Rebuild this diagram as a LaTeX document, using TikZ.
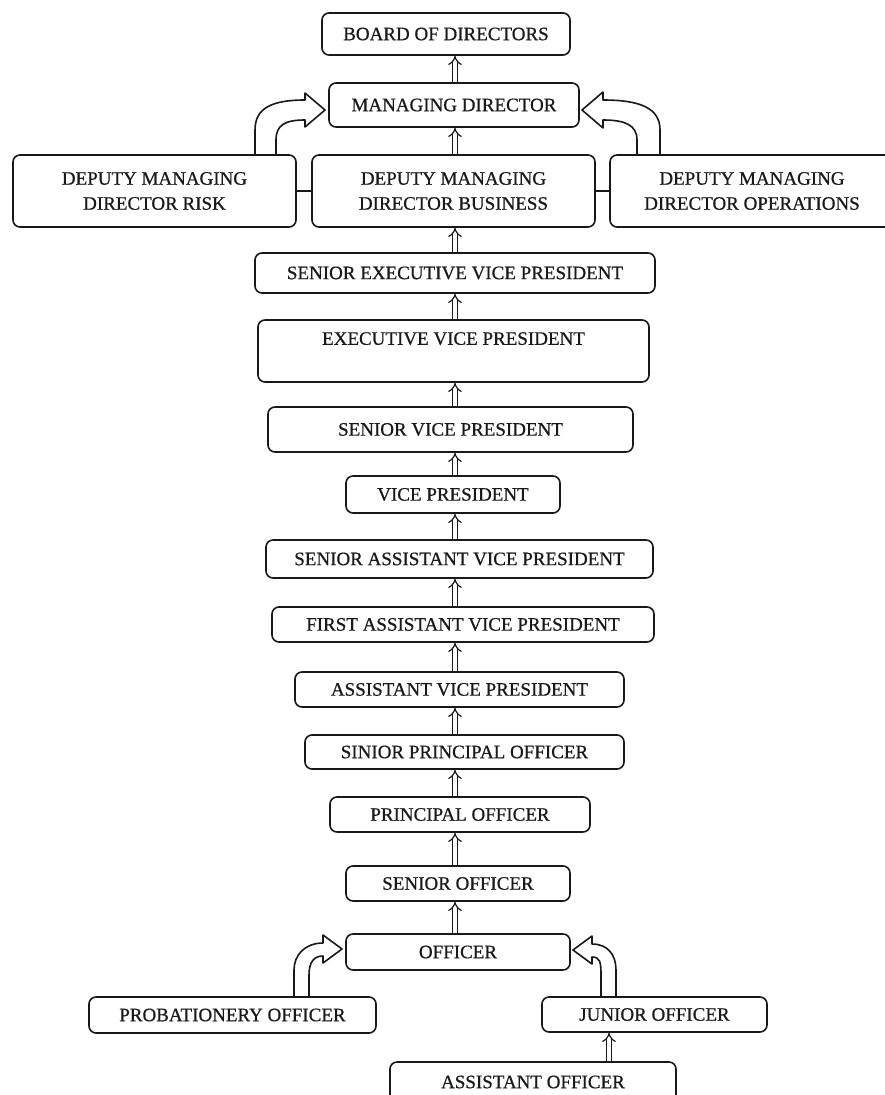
\documentclass[tikz,border=0pt]{standalone}
\usepackage{fontspec}
\setmainfont{Liberation Serif}
\newfontfamily\boxfont{Liberation Serif}[FakeBold=0.6]
\usetikzlibrary{arrows.meta}
\begin{document}
\begin{tikzpicture}[x=1pt,y=-1pt,
  box/.style={draw=black!90, line width=1.6pt, rounded corners=7pt, inner sep=0pt,
    font=\boxfont\fontsize{19}{25}\selectfont, align=center, text=black!90},
  up/.style={double=white, double distance=3.5pt, line width=1.2pt, draw=black!90, -{Implies}},
  blockarrow/.style={draw=black!90, line width=1.6pt, fill=white, line join=round},
  link/.style={draw=black!90, line width=1.6pt}]
\useasboundingbox (0,0) rectangle (884,1095);
\fill[white] (0,0) rectangle (884,1095);
\coordinate (cx) at (455,0);
\coordinate (jx) at (609,0);
% boxes
\node[box, minimum width=248, minimum height=42] (bod) at (446,34) {BOARD OF DIRECTORS};
\node[box, minimum width=250, minimum height=44] (md) at (454,105) {MANAGING DIRECTOR};
\node[box, minimum width=283, minimum height=72] (risk) at (154.5,191) {DEPUTY MANAGING\\DIRECTOR RISK};
\node[box, minimum width=283, minimum height=72] (bus) at (453.5,191) {DEPUTY MANAGING\\DIRECTOR BUSINESS};
\node[box, minimum width=284, minimum height=72] (ops) at (752,191) {DEPUTY MANAGING\\DIRECTOR OPERATIONS};
\node[box, minimum width=400, minimum height=40] (sevp) at (455,273) {SENIOR EXECUTIVE VICE PRESIDENT};
\node[box, minimum width=391, minimum height=62] (evp) at (453.5,351) {EXECUTIVE VICE PRESIDENT\\\mbox{}};
\node[box, minimum width=365, minimum height=45] (svp) at (450.5,429.5) {SENIOR VICE PRESIDENT};
\node[box, minimum width=214, minimum height=37] (vp) at (453,494.5) {VICE PRESIDENT};
\node[box, minimum width=387, minimum height=38] (savp) at (459.5,559) {SENIOR ASSISTANT VICE PRESIDENT};
\node[box, minimum width=382, minimum height=35] (favp) at (463,624.5) {FIRST ASSISTANT VICE PRESIDENT};
\node[box, minimum width=329, minimum height=35] (avp) at (459.5,689.5) {ASSISTANT VICE PRESIDENT};
\node[box, minimum width=319, minimum height=34] (spo) at (464.5,752) {SINIOR PRINCIPAL OFFICER};
\node[box, minimum width=260, minimum height=35] (po) at (460,814.5) {PRINCIPAL OFFICER};
\node[box, minimum width=224, minimum height=35] (so) at (458,883.5) {SENIOR OFFICER};
\node[box, minimum width=224, minimum height=36] (off) at (458,952) {OFFICER};
\node[box, minimum width=287, minimum height=36] (prob) at (232.5,1015) {PROBATIONERY OFFICER};
\node[box, minimum width=225, minimum height=35] (jun) at (654.5,1014.5) {JUNIOR OFFICER};
\node[box, minimum width=286, minimum height=40] (asst) at (533,1082) {ASSISTANT OFFICER};
% horizontal links
\draw[link] (risk.east) -- (bus.west);
\draw[link] (bus.east) -- (ops.west);
% small upward arrows
\draw[up] (md.north -| cx) -- (bod.south -| cx);
\draw[up] (bus.north -| cx) -- (md.south -| cx);
\draw[up] (sevp.north -| cx) -- (bus.south -| cx);
\draw[up] (evp.north -| cx) -- (sevp.south -| cx);
\draw[up] (svp.north -| cx) -- (evp.south -| cx);
\draw[up] (vp.north -| cx) -- (svp.south -| cx);
\draw[up] (savp.north -| cx) -- (vp.south -| cx);
\draw[up] (favp.north -| cx) -- (savp.south -| cx);
\draw[up] (avp.north -| cx) -- (favp.south -| cx);
\draw[up] (spo.north -| cx) -- (avp.south -| cx);
\draw[up] (po.north -| cx) -- (spo.south -| cx);
\draw[up] (so.north -| cx) -- (po.south -| cx);
\draw[up] (off.north -| cx) -- (so.south -| cx);
\draw[up] (asst.north -| jx) -- (jun.south -| jx);
% bent block arrows (top)
\draw[blockarrow] (255,155) -- (255,130) .. controls (255,108) and (272,100) .. (305,100)
  -- (305,93) -- (325,110) -- (305,127) -- (305,120)
  .. controls (285,120) and (276,125) .. (276,140) -- (276,155) -- cycle;
\draw[blockarrow] (660,155) -- (660,130) .. controls (660,108) and (640,100) .. (603,100)
  -- (603,92) -- (582,110) -- (603,128) -- (603,120)
  .. controls (625,120) and (637,125) .. (637,140) -- (637,155) -- cycle;
% bent block arrows (bottom)
\draw[blockarrow] (294,997) -- (294,970) .. controls (294,955) and (305,943) .. (323,943)
  -- (323,935) -- (342,949) -- (323,963) -- (323,956)
  .. controls (314,956) and (309,962) .. (309,975) -- (309,997) -- cycle;
\draw[blockarrow] (616,997) -- (616,970) .. controls (616,955) and (608,944) .. (592,944)
  -- (592,936) -- (573,950) -- (592,964) -- (592,957)
  .. controls (600,957) and (601,962) .. (601,975) -- (601,997) -- cycle;
\end{tikzpicture}
\end{document}
